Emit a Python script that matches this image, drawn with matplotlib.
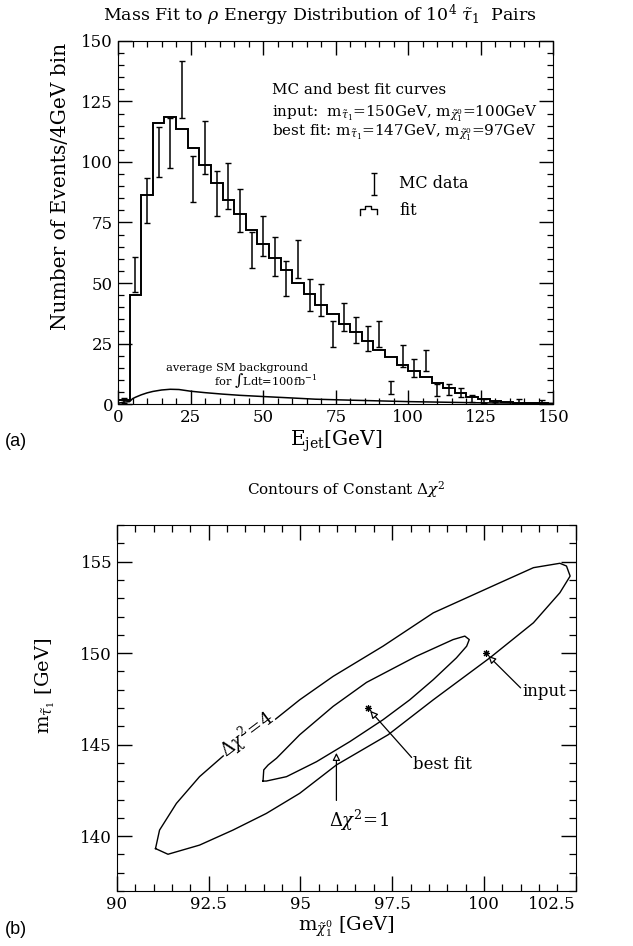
import numpy as np
import matplotlib.pyplot as plt
from matplotlib.ticker import MultipleLocator

plt.rcParams['font.family'] = ['DejaVu Serif']
plt.rcParams['mathtext.fontset'] = 'dejavuserif'

# ---- (a) energy distribution, 4 GeV bins from 0 to 148 GeV
bin_edges = np.arange(0, 152, 4)
fit_counts = [1.5, 45, 86.5, 116, 118.5, 113.6, 105.8, 98.8, 91.5, 84.3,
              78.5, 72, 66, 60.5, 55.5, 50, 45.5, 41, 37, 33.2,
              29.6, 26.2, 22.2, 19.3, 16.2, 13.7, 11.3, 8.5, 6.5, 4.4,
              3.0, 2.0, 1.4, 0.9, 0.6, 0.4, 0.3]
mc_counts = [1.5, 53.5, 84, 104, 108, 130, 93, 106, 87, 90,
             80, 63.5, 69.5, 61, 52, 60, 45, 43, 29, 36,
             30.5, 27, 29, 6.8, 19.8, 15, 18, 5.8, 6, 4.8,
             2.2, 1.1, 0.5, 0, 1.0, 0, 0.8]
mc_errors = [1.2, 7.2, 9.2, 10.3, 10.3, 11.7, 9.6, 11, 9.3, 9.5,
             8.9, 7.5, 8.2, 7.9, 7.2, 7.8, 6.7, 6.6, 5.4, 5.9,
             5.4, 5.1, 5.4, 2.7, 4.4, 3.8, 4.3, 2.6, 2.3, 2.0,
             1.4, 0.8, 0.5, 0, 1.0, 0, 0.7]
bg_energy = [0, 2, 4, 5, 6, 8, 10, 12, 15, 18, 21, 25, 30, 36, 42, 50,
             60, 68, 80, 90, 100, 110, 125, 135, 150]
bg_counts = [0.3, 0.8, 1.0, 2.2, 2.8, 3.8, 4.6, 5.2, 5.8, 6.1, 6.0, 5.3,
             4.7, 4.1, 3.6, 3.1, 2.5, 2.0, 1.6, 1.3, 1.0, 0.8, 0.5, 0.4, 0.3]

# ---- (b) chi^2 contours
outer_x = [91.05, 91.39, 92.25, 93.16, 94.07, 94.98, 95.98, 97.39, 98.62,
           100.16, 101.35, 102.07, 102.35, 102.25, 102.07, 101.35, 100.44,
           98.62, 97.25, 95.89, 94.98, 94.07, 92.98, 92.25, 91.62, 91.16, 91.05]
outer_y = [139.32, 139.01, 139.51, 140.33, 141.24, 142.34, 143.89, 145.54, 147.45,
           149.74, 151.66, 153.30, 154.21, 154.76, 154.91, 154.67, 153.85,
           152.20, 150.38, 148.73, 147.45, 145.99, 144.53, 143.25, 141.79, 140.33, 139.32]
inner_x = [93.98, 94.0, 94.12, 94.35, 94.98, 95.89, 96.8, 98.16, 99.16, 99.48,
           99.6, 99.53, 99.25, 98.62, 97.98, 97.25, 96.35, 95.44, 94.62, 94.07, 93.98]
inner_y = [143.01, 143.62, 143.89, 144.26, 145.54, 147.09, 148.40, 149.83, 150.74, 150.93,
           150.74, 150.38, 149.74, 148.55, 147.45, 146.36, 145.17, 144.07, 143.25, 143.01, 143.01]
best_fit = (96.85, 147.0)
input_pt = (100.05, 150.0)

fig = plt.figure(figsize=(6.33, 9.46), dpi=100)

# ---------------- panel (a)
ax = fig.add_axes([0.1864, 0.5729, 0.688, 0.3838])
ax.stairs(fit_counts, bin_edges, color='k', lw=1.4)
centers = (bin_edges[:-1] + bin_edges[1:]) / 2
mask = np.array(mc_errors) > 0
ax.errorbar(centers[mask], np.array(mc_counts)[mask], yerr=np.array(mc_errors)[mask],
            fmt='none', ecolor='k', elinewidth=1.1, capsize=2.3, capthick=1.0)
ax.plot(bg_energy, bg_counts, color='k', lw=1.1)

ax.set_xlim(0, 150)
ax.set_ylim(0, 150)
ax.xaxis.set_major_locator(MultipleLocator(25))
ax.xaxis.set_minor_locator(MultipleLocator(5))
ax.yaxis.set_major_locator(MultipleLocator(25))
ax.yaxis.set_minor_locator(MultipleLocator(5))
ax.tick_params(which='both', direction='in', top=True, right=True, labelsize=12)
ax.tick_params(which='major', length=10, width=1)
ax.tick_params(which='minor', length=4.5, width=0.9)
fig.text(0.506, 0.984, r'Mass Fit to $\rho$ Energy Distribution of 10$^4$ $\tilde{\tau}_1$  Pairs',
         fontsize=12.5, ha='center', va='center')
ax.set_ylabel('Number of Events/4GeV bin', fontsize=14.5)
ax.yaxis.set_label_coords(-0.11, 0.6)
ax.set_xlabel(r'E$_{\mathrm{jet}}$[GeV]', fontsize=14.5, labelpad=2)

ax.text(0.354, 0.855, 'MC and best fit curves', transform=ax.transAxes, fontsize=10.9)
ax.text(0.354, 0.792, r'input:  m$_{\tilde{\tau}_1}$=150GeV, m$_{\tilde{\chi}^0_1}$=100GeV',
        transform=ax.transAxes, fontsize=10.9)
ax.text(0.354, 0.738, r'best fit: m$_{\tilde{\tau}_1}$=147GeV, m$_{\tilde{\chi}^0_1}$=97GeV',
        transform=ax.transAxes, fontsize=10.9)
# legend symbols
ax.errorbar([0.587], [0.607], yerr=[0.03], transform=ax.transAxes, fmt='none',
            ecolor='k', elinewidth=1.0, capsize=2.3, capthick=1.0)
ax.plot([0.556, 0.556, 0.567, 0.567, 0.580, 0.580, 0.595, 0.595],
        [0.520, 0.536, 0.536, 0.546, 0.546, 0.536, 0.536, 0.524],
        transform=ax.transAxes, color='k', lw=1.0)
ax.text(0.645, 0.607, 'MC data', transform=ax.transAxes, fontsize=11.5, va='center')
ax.text(0.645, 0.533, 'fit', transform=ax.transAxes, fontsize=11.5, va='center')

ax.text(41, 15.0, 'average SM background', fontsize=8.2, ha='center', va='center')
ax.text(51, 9.6, r'for $\int$Ldt=100fb$^{-1}$', fontsize=8.2, ha='center', va='center')

fig.text(0.008, 0.533, '(a)', fontsize=13, family='Liberation Sans', va='center')

# ---------------- panel (b)
bx = fig.add_axes([0.1848, 0.0581, 0.7246, 0.3869])
bx.plot(outer_x, outer_y, color='k', lw=1.0)
bx.plot(inner_x, inner_y, color='k', lw=1.0)
bx.plot(*best_fit, marker=(8, 2, 0), ms=5, color='k', mew=0.8)
bx.plot(*input_pt, marker=(8, 2, 0), ms=5, color='k', mew=0.8)

arrow = dict(arrowstyle='-|>', fc='white', ec='k', lw=0.9, mutation_scale=11,
             shrinkA=0, shrinkB=0)
bx.annotate('', xy=(96.9, 146.85), xytext=(98.03, 144.3), arrowprops=arrow)
bx.text(98.07, 143.9, 'best fit', fontsize=12, va='center')
bx.annotate('', xy=(100.12, 149.85), xytext=(101.0, 148.1), arrowprops=arrow)
bx.text(101.05, 147.9, 'input', fontsize=12, va='center')
bx.annotate('', xy=(95.98, 144.55), xytext=(95.98, 141.95), arrowprops=arrow)
bx.text(96.6, 140.85, r'$\Delta\chi^2\!=\!1$', fontsize=13, ha='center', va='center')
bx.text(93.55, 145.55, r'$\Delta\chi^2\!=\!4$', fontsize=13, ha='center', va='center',
        rotation=37, rotation_mode='anchor',
        bbox=dict(fc='white', ec='none', pad=0.3))

bx.set_xlim(90, 102.5)
bx.set_ylim(137, 157)
bx.xaxis.set_minor_locator(MultipleLocator(0.5))
bx.yaxis.set_major_locator(MultipleLocator(5))
bx.yaxis.set_minor_locator(MultipleLocator(1))
bx.set_xticks([90, 92.5, 95, 97.5, 100, 102.5])
bx.set_xticklabels(['90', '92.5', '95', '97.5', '100', '102.5'])
bx.get_xticklabels()[-1].set_horizontalalignment('right')
bx.tick_params(which='both', direction='in', top=True, right=True, labelsize=12)
bx.tick_params(which='major', length=11, width=1)
bx.tick_params(which='minor', length=5, width=0.9)
bx.set_title(r'Contours of Constant $\Delta\chi^2$', fontsize=11, pad=22)
bx.set_xlabel(r'm$_{\tilde{\chi}^0_1}$ [GeV]', fontsize=14, labelpad=1)
bx.set_ylabel(r'm$_{\tilde{\tau}_1}$ [GeV]', fontsize=14)
bx.yaxis.set_label_coords(-0.13, 0.56)

fig.text(0.008, 0.017, '(b)', fontsize=13, family='Liberation Sans', va='center')

fig.savefig('out.png', dpi=100)
